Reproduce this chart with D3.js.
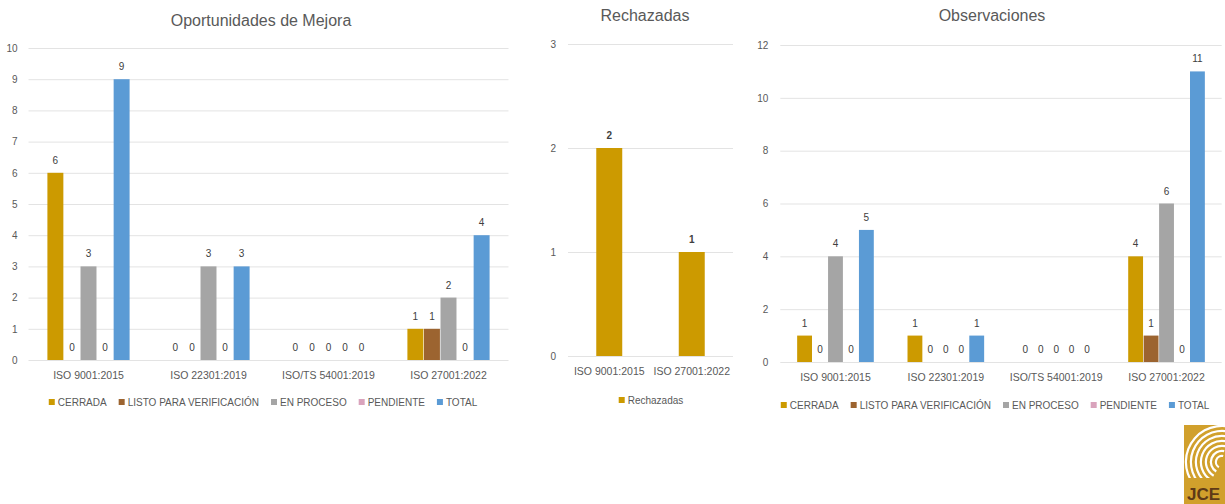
<!DOCTYPE html>
<html>
<head>
<meta charset="utf-8">
<script src="https://cdn.jsdelivr.net/npm/d3@7"></script>
<style>
  body{margin:0;background:#fff;}
  text{font-family:"Liberation Sans",Arial,sans-serif;}
</style>
</head>
<body>
<div id="chart"></div>
<script>
var W=1225, H=504;

// data
var categories=["ISO 9001:2015","ISO 22301:2019","ISO/TS 54001:2019","ISO 27001:2022"];
var seriesNames=["CERRADA","LISTO PARA VERIFICACIÓN","EN PROCESO","PENDIENTE","TOTAL"];

var mejoraCerrada=[6,0,0,1];
var mejoraListo=[0,0,0,1];
var mejoraProceso=[3,3,0,2];
var mejoraPendiente=[0,0,0,0];
var mejoraTotal=[9,3,0,4];

var obsCerrada=[1,1,0,4];
var obsListo=[0,0,0,1];
var obsProceso=[4,0,0,6];
var obsPendiente=[0,0,0,0];
var obsTotal=[5,1,0,11];

var rechCategories=["ISO 9001:2015","ISO 27001:2022"];
var rechValues=[2,1];

var mejoraTicks=[0,1,2,3,4,5,6,7,8,9,10];
var obsTicks=[0,2,4,6,8,10,12];
var rechTicks=[0,1,2,3];

// styles
var seriesColors=["#CC9A00","#9C6430","#A5A5A5","#D9A3BC","#5B9BD5"];
var gridColor="#E3E3E3", axisText="#595959", labelText="#404040";

var svg=d3.select("#chart").append("svg")
  .attr("width",W).attr("height",H);

function drawLegend(g,items,colors,cx,cy){
  var lg=g.append("g");
  var x=0;
  items.forEach(function(name,i){
    lg.append("rect").attr("x",x).attr("y",cy-3).attr("width",6).attr("height",6)
      .attr("fill",colors[i]);
    var t=lg.append("text").attr("x",x+9).attr("y",cy+3.5)
      .attr("font-size",10).attr("fill",axisText).text(name);
    x+=9+t.node().getComputedTextLength()+12;
  });
  lg.attr("transform","translate("+(cx-(x-12)/2)+",0)");
}

function drawYAxis(g,y,ticks,x0,x1,pad){
  var ax=g.append("g").attr("transform","translate("+x0+",0)")
    .call(d3.axisLeft(y).tickValues(ticks).tickFormat(d3.format("d")).tickSize(-(x1-x0)).tickPadding(pad));
  ax.select(".domain").remove();
  ax.selectAll("line").attr("stroke",gridColor);
  ax.selectAll("text").attr("font-size",10).attr("fill",axisText);
}

function drawGrouped(opt){
  var g=svg.append("g");
  var x=d3.scaleBand().domain(categories).range(opt.xr).paddingInner(opt.pad).paddingOuter(opt.pad/2);
  var xs=d3.scaleBand().domain(d3.range(seriesNames.length)).range([0,x.bandwidth()]);
  var y=d3.scaleLinear().domain([0,d3.max(opt.ticks)]).range(opt.yr);

  g.append("text").attr("x",opt.titleX).attr("y",opt.titleY).attr("text-anchor","middle")
    .attr("font-size",16).attr("fill",axisText).text(opt.title);

  drawYAxis(g,y,opt.ticks,opt.xr[0],opt.xr[1],opt.tickPad);

  opt.series.forEach(function(vals,si){
    var sg=g.append("g");
    sg.selectAll("rect").data(vals).enter().append("rect")
      .attr("x",function(d,i){return x(categories[i])+xs(si)+0.3;})
      .attr("width",xs.bandwidth()-0.6)
      .attr("y",function(d){return y(d);})
      .attr("height",function(d){return y(0)-y(d);})
      .attr("fill",seriesColors[si]);
    sg.selectAll("text").data(vals).enter().append("text")
      .attr("x",function(d,i){return x(categories[i])+xs(si)+xs.bandwidth()/2;})
      .attr("y",function(d){return y(d)-9;})
      .attr("text-anchor","middle").attr("font-size",10).attr("fill",labelText)
      .text(function(d){return d;});
  });

  g.selectAll(".cat").data(categories).enter().append("text")
    .attr("x",function(d){return x(d)+x.bandwidth()/2;})
    .attr("y",opt.catY).attr("text-anchor","middle")
    .attr("font-size",10.5).attr("fill",axisText).text(function(d){return d;});

  drawLegend(g,seriesNames,seriesColors,opt.legendX,opt.legendY);
}

drawGrouped({
  title:"Oportunidades de Mejora", titleX:261, titleY:26,
  xr:[28.5,508.5], yr:[360,48], pad:0.31, ticks:mejoraTicks, tickPad:11,
  series:[mejoraCerrada,mejoraListo,mejoraProceso,mejoraPendiente,mejoraTotal],
  catY:379, legendX:263, legendY:402
});

drawGrouped({
  title:"Observaciones", titleX:992, titleY:21,
  xr:[780.3,1221.7], yr:[362,45], pad:0.30, ticks:obsTicks, tickPad:12,
  series:[obsCerrada,obsListo,obsProceso,obsPendiente,obsTotal],
  catY:381, legendX:995, legendY:405
});

// Rechazadas
(function(){
  var g=svg.append("g");
  var x=d3.scaleBand().domain(rechCategories).range([568,733]).paddingInner(0.685).paddingOuter(0.3425);
  var y=d3.scaleLinear().domain([0,3]).range([356,44]);
  g.append("text").attr("x",645).attr("y",21).attr("text-anchor","middle")
    .attr("font-size",16).attr("fill",axisText).text("Rechazadas");
  drawYAxis(g,y,rechTicks,568,733,12);
  g.selectAll(".bar").data(rechValues).enter().append("rect")
    .attr("x",function(d,i){return x(rechCategories[i]);})
    .attr("width",x.bandwidth())
    .attr("y",function(d){return y(d);})
    .attr("height",function(d){return y(0)-y(d);})
    .attr("fill",seriesColors[0]);
  g.selectAll(".val").data(rechValues).enter().append("text")
    .attr("x",function(d,i){return x(rechCategories[i])+x.bandwidth()/2;})
    .attr("y",function(d){return y(d)-9;})
    .attr("text-anchor","middle").attr("font-size",10).attr("font-weight","bold")
    .attr("fill",labelText).text(function(d){return d;});
  g.selectAll(".cat").data(rechCategories).enter().append("text")
    .attr("x",function(d){return x(d)+x.bandwidth()/2;})
    .attr("y",375).attr("text-anchor","middle")
    .attr("font-size",10.5).attr("fill",axisText).text(function(d){return d;});
  drawLegend(g,["Rechazadas"],[seriesColors[0]],651,400);
})();

// JCE logo, bottom right
(function(){
  var lg=svg.append("g");
  lg.append("clipPath").attr("id","logoclip").append("rect")
    .attr("x",1184).attr("y",425).attr("width",41).attr("height",79);
  var c=lg.append("g").attr("clip-path","url(#logoclip)");
  c.append("rect").attr("x",1184).attr("y",425).attr("width",41).attr("height",79).attr("fill","#D1A02C");
  var arc=d3.arc();
  [5,10,15,20,25,30,35].forEach(function(r){
    c.append("path")
      .attr("transform","translate(1222,462)")
      .attr("d",arc({innerRadius:r,outerRadius:r+2.2,startAngle:-2.6,endAngle:0.2}))
      .attr("fill","#fff");
  });
  c.append("rect").attr("x",1184).attr("y",478).attr("width",41).attr("height",26).attr("fill","#D1A02C");
  c.append("text").attr("x",1187).attr("y",500).attr("font-size",17).attr("font-weight","bold")
    .attr("fill","#5E3A17").text("JCE");
})();
</script>
</body>
</html>
